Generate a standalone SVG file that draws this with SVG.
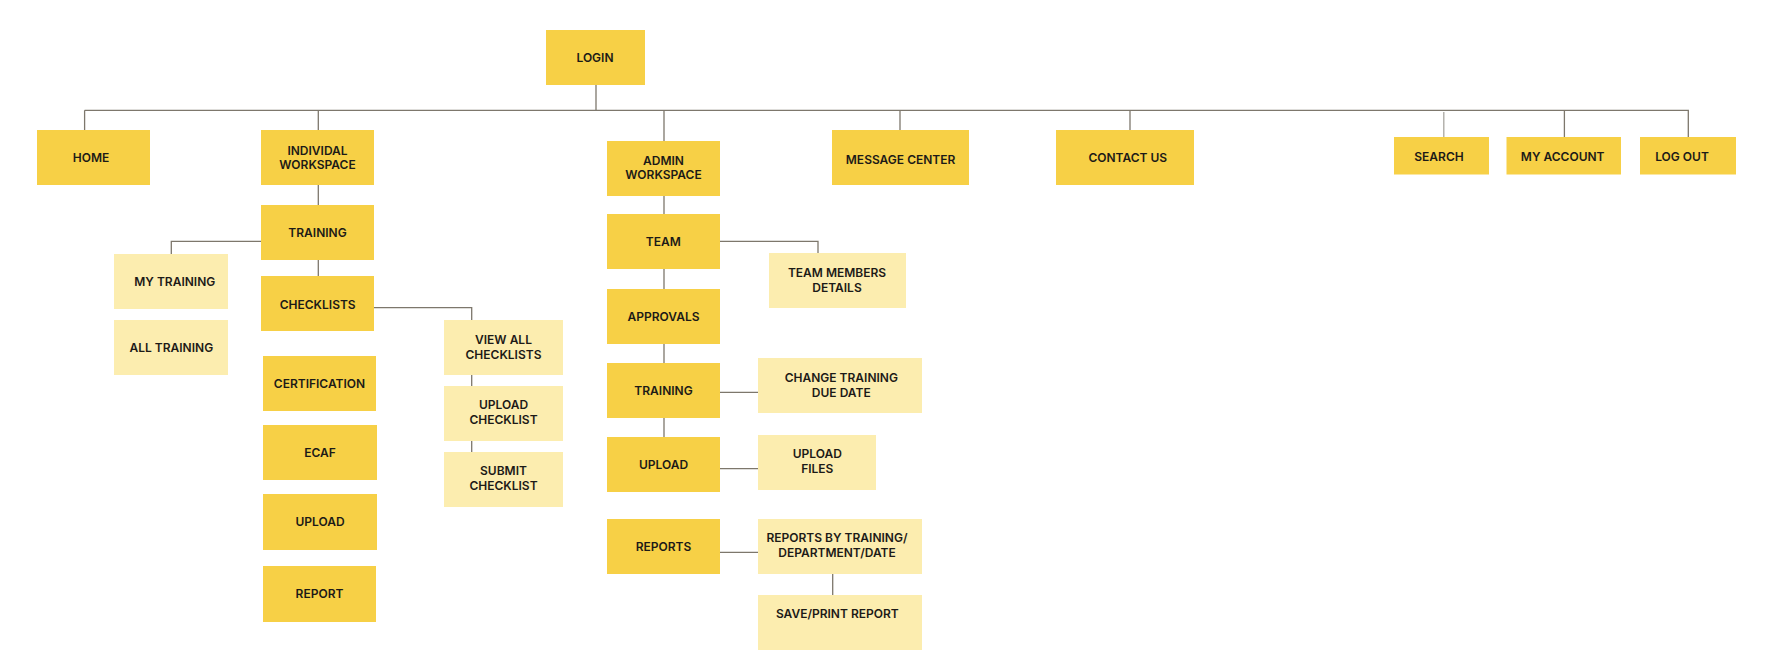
<svg xmlns="http://www.w3.org/2000/svg" width="1772" height="666" viewBox="0 0 1772 666">
<style>
.d{fill:#F7D046}
.l{fill:#FCEDAF}
text{font-family:Inter,"Liberation Sans",sans-serif;font-weight:600;font-size:12px;fill:#1c1a17;text-anchor:middle}
.c path{fill:none;stroke:#7d776c;stroke-width:1.3}
</style>
<rect width="1772" height="666" fill="#ffffff"/>
<g class="c" id="connectors">
<path d="M596 85V110.3"/>
<path d="M84.6 110.3H1688.3V137"/>
<path d="M84.6 110.3V130"/>
<path d="M318.3 110.3V130"/>
<path d="M664 110.3V141"/>
<path d="M900 110.3V130"/>
<path d="M1130 110.3V130"/>
<path d="M1443.8 112V137" style="stroke:#a9a6a0"/>
<path d="M1564.4 110.3V137"/>
<path d="M318.3 185V205"/>
<path d="M261 241.3H171.3V254"/>
<path d="M318.3 260V276"/>
<path d="M374 307.7H471.7V320"/>
<path d="M471.7 375V386"/>
<path d="M471.7 441V452"/>
<path d="M664 196V214"/>
<path d="M720 241.3H818V253"/>
<path d="M664 269V289"/>
<path d="M664 344V363"/>
<path d="M720 392.3H758"/>
<path d="M664 418V437"/>
<path d="M720 468.7H758"/>
<path d="M720 552.3H758"/>
<path d="M832.7 574V595"/>
</g>
<g id="login"><rect class="d" x="546" y="30" width="99" height="55"/><text x="595" y="61.8">LOGIN</text></g>
<g id="home"><rect class="d" x="37" y="130" width="113" height="55"/><text x="91" y="161.6">HOME</text></g>
<g id="individal-workspace"><rect class="d" x="261" y="130" width="113" height="55"/><text x="317.5" y="154.6">INDIVIDAL</text><text x="317.5" y="169">WORKSPACE</text></g>
<g id="admin-workspace"><rect class="d" x="607" y="141" width="113" height="55"/><text x="663.5" y="164.6">ADMIN</text><text x="663.5" y="179.3">WORKSPACE</text></g>
<g id="message-center"><rect class="d" x="832" y="130" width="137" height="55"/><text x="900.6" y="163.6">MESSAGE CENTER</text></g>
<g id="contact-us"><rect class="d" x="1056" y="130" width="138" height="55"/><text x="1127.8" y="161.6">CONTACT US</text></g>
<g id="search"><rect class="d" x="1394" y="137" width="95" height="37.5"/><text x="1439" y="161">SEARCH</text></g>
<g id="my-account"><rect class="d" x="1506.5" y="137" width="114.5" height="37.5"/><text x="1562.7" y="161">MY ACCOUNT</text></g>
<g id="log-out"><rect class="d" x="1640" y="137" width="96" height="37.5"/><text x="1682" y="161">LOG OUT</text></g>
<g id="training-ind"><rect class="d" x="261" y="205" width="113" height="55"/><text x="317.5" y="237.3">TRAINING</text></g>
<g id="my-training"><rect class="l" x="114" y="254" width="114" height="55"/><text x="174.8" y="286">MY TRAINING</text></g>
<g id="all-training"><rect class="l" x="114" y="320" width="114" height="55"/><text x="171.3" y="351.6">ALL TRAINING</text></g>
<g id="checklists"><rect class="d" x="261" y="276" width="113" height="55"/><text x="317.7" y="308.6">CHECKLISTS</text></g>
<g id="view-all-checklists"><rect class="l" x="444" y="320" width="119" height="55"/><text x="503.5" y="344">VIEW ALL</text><text x="503.5" y="359">CHECKLISTS</text></g>
<g id="upload-checklist"><rect class="l" x="444" y="386" width="119" height="55"/><text x="503.5" y="409.3">UPLOAD</text><text x="503.5" y="424.3">CHECKLIST</text></g>
<g id="submit-checklist"><rect class="l" x="444" y="452" width="119" height="55"/><text x="503.5" y="475.3">SUBMIT</text><text x="503.5" y="490.3">CHECKLIST</text></g>
<g id="certification"><rect class="d" x="263" y="356" width="113" height="55"/><text x="319.5" y="387.6">CERTIFICATION</text></g>
<g id="ecaf"><rect class="d" x="263" y="425" width="114" height="55"/><text x="320" y="457">ECAF</text></g>
<g id="upload-ind"><rect class="d" x="263" y="494" width="114" height="56"/><text x="320" y="526.3">UPLOAD</text></g>
<g id="report"><rect class="d" x="263" y="566" width="113" height="56"/><text x="319.5" y="598">REPORT</text></g>
<g id="team"><rect class="d" x="607" y="214" width="113" height="55"/><text x="663.3" y="246">TEAM</text></g>
<g id="team-members-details"><rect class="l" x="769" y="253" width="137" height="55"/><text x="837" y="277.3">TEAM MEMBERS</text><text x="837" y="292.3">DETAILS</text></g>
<g id="approvals"><rect class="d" x="607" y="289" width="113" height="55"/><text x="663.5" y="321">APPROVALS</text></g>
<g id="training-admin"><rect class="d" x="607" y="363" width="113" height="55"/><text x="663.5" y="395.3">TRAINING</text></g>
<g id="change-training-due-date"><rect class="l" x="758" y="358" width="164" height="55"/><text x="841.3" y="381.6">CHANGE TRAINING</text><text x="841.3" y="396.6">DUE DATE</text></g>
<g id="upload-admin"><rect class="d" x="607" y="437" width="113" height="55"/><text x="663.5" y="469.3">UPLOAD</text></g>
<g id="upload-files"><rect class="l" x="758" y="435" width="118" height="55"/><text x="817.3" y="458.3">UPLOAD</text><text x="817.3" y="473.3">FILES</text></g>
<g id="reports"><rect class="d" x="607" y="519" width="113" height="55"/><text x="663.5" y="551">REPORTS</text></g>
<g id="reports-by"><rect class="l" x="758" y="519" width="164" height="55"/><text x="837" y="542">REPORTS BY TRAINING/</text><text x="837" y="557">DEPARTMENT/DATE</text></g>
<g id="save-print-report"><rect class="l" x="758" y="595" width="164" height="55"/><text x="837.3" y="618.3">SAVE/PRINT REPORT</text></g>
</svg>
